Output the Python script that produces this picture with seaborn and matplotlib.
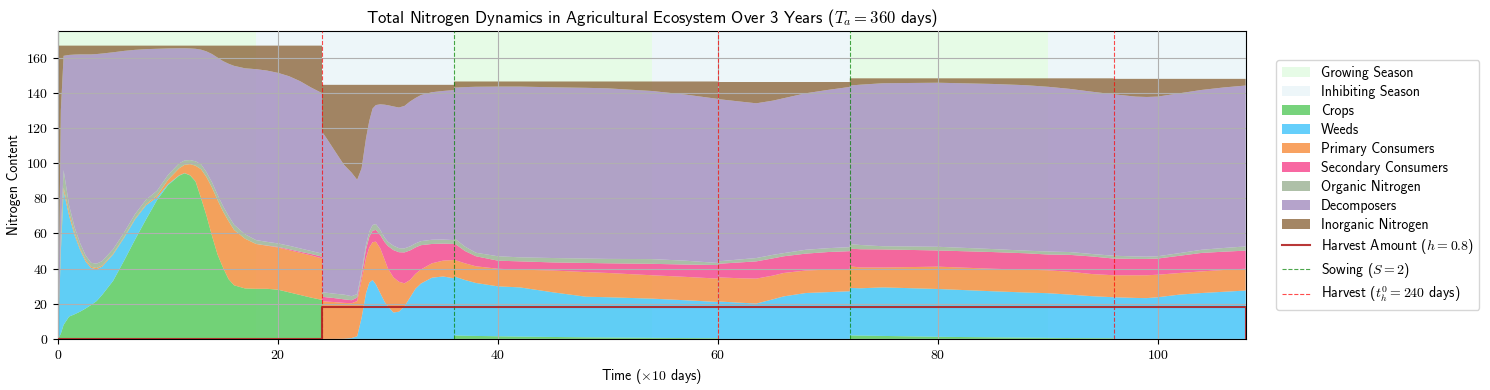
import numpy as np
import pandas as pd
import matplotlib
matplotlib.use("Agg")
import matplotlib.pyplot as plt
import seaborn as sns

plt.rcParams['font.family'] = ['cmss10', 'DejaVu Sans']
plt.rcParams['mathtext.fontset'] = 'cm'
plt.rcParams['axes.unicode_minus'] = False
plt.rcParams['axes.formatter.use_mathtext'] = True

# time (x10 days); repeated values mark the jumps at harvest / sowing
t_a = [0, 0.25, 0.5, 1, 1.5, 2, 2.5, 3, 3.5, 4, 5, 6, 7, 8, 9, 10, 11, 11.5, 12, 12.5,
       13, 13.5, 14, 14.5, 15, 15.5, 16, 17, 18, 19, 20, 21, 22, 23, 24]
t_b = [24, 24.5, 25, 26, 26.7, 27.2, 27.6, 28, 28.3, 28.6, 28.9, 29.3, 29.7, 30, 30.5,
       31, 31.5, 32, 32.5, 33, 34, 35, 36]
t_c = [36, 37, 38, 40, 42, 45, 48, 50, 54, 57, 60]
t_d = [60, 62, 63.5, 65, 66, 68, 70, 72]
t_e = [72, 73, 75, 80, 85, 88, 90, 92, 94, 96]
t_f = [96, 98, 99, 100, 102, 104, 106, 108]

# upper edge of every band of the stack
crops_top = ([0, 3, 8, 12.7, 14, 15.5, 17.3, 19.3, 21.5, 25, 33, 44.5, 56.5, 68, 79, 87.5, 92.8, 94.2, 93, 89.5,
              80, 70, 58.5, 48, 40.5, 34, 30.5, 28.7, 28.5, 28.5, 28, 26.5, 25, 23.5, 22.2]
             + [0] * 23
             + [2, 1.8, 1.7, 1.5, 1.3, 1.1, 0.9, 0.8, 0.6, 0.5, 0.4]
             + [0] * 8
             + [2, 1.9, 1.7, 1.2, 0.9, 0.7, 0.6, 0.5, 0.45, 0.4]
             + [0] * 8)
weeds_top = ([0, 50, 84, 70, 59, 50.6, 44, 40.3, 39.6, 41.1, 48, 57.5, 68, 76, 80.5, 88, 93, 94.3, 93.1, 89.6,
              80.1, 70, 58.5, 48, 40.5, 34, 30.5, 28.7, 28.5, 28.5, 28, 26.5, 25, 23.5, 22.2]
             + [0, 0, 0, 0.1, 0.5, 1.5, 12, 26, 32, 33.5, 31, 26, 21, 18.5, 15, 15.5, 18.5, 23.5, 28.5, 31.5, 34.8, 35.5, 34.5]
             + [35.6, 33.5, 31.8, 29.9, 29.3, 26.5, 24, 23.7, 22.9, 22, 21]
             + [21.3, 20.6, 20.1, 22.5, 24.2, 26.1, 26.6, 27.1]
             + [29, 28.8, 29.3, 28.4, 27.1, 26.4, 26, 25.2, 24.3, 23.7]
             + [23.7, 23.3, 23.2, 23.7, 25.2, 26.1, 26.8, 27.5])
primary_top = ([0, 52, 86, 72, 60.5, 51.5, 45, 41, 40.3, 41.7, 48.5, 58, 68.5, 76.6, 81.5, 90.5, 97, 99, 99.4, 98.5,
                96.5, 92, 86, 79, 72.5, 67, 62, 57, 54, 53, 52, 50.5, 49, 47.5, 45.8]
               + [21.5, 21.2, 21, 20.5, 20.3, 21.5, 33.5, 46, 52, 55, 55.3, 51.5, 45, 40, 35, 32.5, 31.6, 33.5, 37, 39.5, 43, 44.5, 44.9]
               + [45, 43, 41.3, 39.9, 39.4, 38.9, 38, 37.5, 36.2, 35.3, 34.3]
               + [35, 34.5, 34.3, 36, 37.5, 38.9, 39.4, 39.8]
               + [41.3, 40.6, 40.6, 41.1, 39.9, 39.4, 39, 38.2, 36.9, 36.2]
               + [36.2, 36.2, 36.2, 36.5, 37.5, 38.4, 39.2, 39.9])
secondary_top = ([0, 52, 86, 72, 60.5, 51.5, 45, 41, 40.3, 41.7, 48.5, 58, 68.5, 76.6, 81.5, 90.5, 97, 99, 99.4, 98.5,
                  96.5, 92, 86, 79, 72.5, 67, 62, 57, 54, 53.1, 52.3, 51, 49.6, 48.3, 46.8]
                 + [24, 23.6, 23.3, 22.5, 22, 23.5, 36, 51, 58, 61.5, 62, 59, 55, 52.8, 50.5, 49.3, 49.2, 50.3, 52, 53.3, 54, 54.2, 54]
                 + [54.5, 50, 47, 44.5, 44.1, 43.5, 43.2, 43, 42.7, 42.3, 42]
                 + [42.7, 43.5, 44.1, 45.8, 47, 48.5, 49.4, 49.9]
                 + [51.3, 51, 50.9, 50.3, 49.4, 48.7, 48, 47.8, 46.9, 45.7]
                 + [45.7, 45.5, 45.5, 45.7, 47.3, 48.9, 49.6, 50.2])
organic_top = ([0, 60, 96, 76, 63.5, 54.5, 47.5, 43.3, 42.8, 44.2, 51, 60.5, 71, 79.2, 84.3, 93.3, 99.8, 101.5, 101.7, 101,
                99.3, 94.8, 89, 82, 75.5, 70, 65, 59.5, 56.2, 55.2, 54.3, 53, 51.5, 50, 48.5]
               + [26.5, 26.2, 25.8, 25.2, 24.3, 25.5, 38, 53.5, 61, 64.8, 65.3, 62, 57.5, 55.2, 53, 51.6, 51.5, 52.6, 54.3, 55.6, 56.4, 56.5, 56.2]
               + [57.4, 52.5, 49, 47, 46.4, 46, 45.7, 45.5, 45.4, 44.5, 43.2]
               + [44.1, 45.2, 46, 47.8, 48.8, 50.7, 51.6, 52.2]
               + [53.9, 53.4, 52.7, 52.4, 51.1, 50.2, 49.7, 49.4, 48.3, 47.3]
               + [47.3, 46.9, 46.8, 47, 48.8, 50.7, 51.7, 52.6])
decomp_top = ([0, 130, 161, 161.5, 161.7, 161.8, 161.8, 161.8, 162, 162.3, 163, 163.8, 164.4, 164.8, 165, 165.2, 165.3, 165.3, 165.2, 165,
               164.5, 163.5, 162, 160, 158, 156.5, 155.3, 153.9, 153.4, 152.6, 151.3, 149.4, 146.6, 143, 139.8]
              + [117.9, 113.3, 108.5, 99, 94.5, 90.5, 97, 114, 124, 131, 133, 133.4, 133.2, 132.9, 132.2, 131.6, 132.5, 135, 137, 138.7, 140.3, 141, 141.5]
              + [142.9, 143.2, 143.4, 143.5, 143.5, 143.1, 142.8, 142.5, 141, 139, 136.5]
              + [136.4, 135, 134, 135.5, 136.9, 139.7, 141.6, 143.3]
              + [144.1, 144.6, 145.4, 145.7, 145, 144.3, 143.4, 142.2, 140.6, 139.1]
              + [139.1, 137.8, 137.6, 137.8, 139.7, 141.6, 143, 144.1])
total_top = [166.8] * 35 + [144.5] * 23 + [146.4] * 11 + [146.1] * 8 + [148.2] * 10 + [147.9] * 8

labels = ['Crops', 'Weeds', 'Primary Consumers', 'Secondary Consumers',
          'Organic Nitrogen', 'Decomposers', 'Inorganic Nitrogen']
colors = ['#55c85b', '#3fc3fa', '#f78b39', '#f7428b', '#9ab193', '#a38cbe', '#8e683d']

# cumulative harvested nitrogen
harvest_t = [0, 24, 60, 96, 108, 108]
harvest_v = [0, 18.0, 18.2, 18.4, 18.4, 0]

growing_starts = [0, 36, 72]
inhibiting_starts = [18, 54, 90]
season_len = 18
sowing_times = [36, 72]
harvest_times = [24, 60, 96]

t = np.array(t_a + t_b + t_c + t_d + t_e + t_f)
tops = np.vstack([crops_top, weeds_top, primary_top, secondary_top,
                  organic_top, decomp_top, total_top])
bands = np.clip(np.diff(np.vstack([np.zeros(len(t)), tops]), axis=0), 0, None)

fig = plt.figure(figsize=(14.9, 3.9), dpi=100)
ax = fig.add_subplot(111)
plt.subplots_adjust(left=0.039, right=0.836, top=0.92, bottom=0.131)

for i, s in enumerate(growing_starts):
    ax.axvspan(s, s + season_len, color='#90ee90', alpha=0.22, lw=0,
               label='Growing Season' if i == 0 else None)
for i, s in enumerate(inhibiting_starts):
    ax.axvspan(s, s + season_len, color='#add8e6', alpha=0.22, lw=0,
               label='Inhibiting Season' if i == 0 else None)

ax.stackplot(t, *bands, labels=labels, colors=colors, alpha=0.8)

harvest_df = pd.DataFrame({'t': harvest_t, 'v': harvest_v})
sns.lineplot(data=harvest_df, x='t', y='v', ax=ax, sort=False, estimator=None,
             drawstyle='steps-post', color='#b22222', lw=1.5, alpha=0.9,
             label='Harvest Amount ($h=0.8$)', zorder=4)

for i, s in enumerate(sowing_times):
    ax.axvline(s, color='g', ls='--', lw=0.8, alpha=0.7, zorder=3,
               label='Sowing ($S=2$)' if i == 0 else None)
for i, s in enumerate(harvest_times):
    ax.axvline(s, color='r', ls='--', lw=0.8, alpha=0.7, zorder=3,
               label='Harvest ($t_h^0=240$ days)' if i == 0 else None)

ax.set_xlim(0, 108)
ax.set_ylim(0, 175)
ax.set_xticks(np.arange(0, 101, 20))
ax.set_yticks(np.arange(0, 161, 20))
ax.tick_params(labelfontfamily='cmr10', labelsize=10)
ax.grid(True, color='#b0b0b0', lw=0.8)
ax.set_axisbelow(False)

ax.set_title('Total Nitrogen Dynamics in Agricultural Ecosystem Over 3 Years ($T_a=360$ days)', fontsize=12)
ax.set_xlabel(r'Time ($\times 10$ days)', fontsize=10)
ax.set_ylabel('Nitrogen Content', fontsize=10)
ax.legend(loc='center left', bbox_to_anchor=(1.02, 0.5), fontsize=10, labelspacing=0.36)

fig.savefig('out.png', dpi=100)
